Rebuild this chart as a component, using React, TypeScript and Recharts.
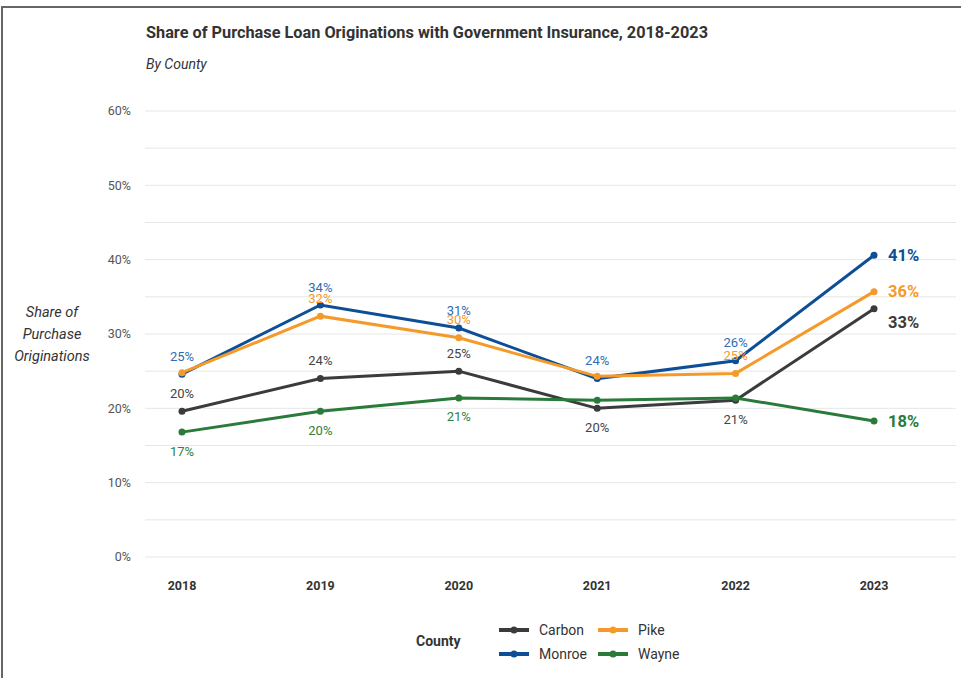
import React from 'react';
import { LineChart, Line, XAxis, YAxis, CartesianGrid, LabelList } from 'recharts';

const years = ['2018', '2019', '2020', '2021', '2022', '2023'];
const carbon = [19.6, 24.0, 25.0, 20.0, 21.1, 33.4];
const monroe = [24.6, 33.9, 30.8, 24.0, 26.4, 40.6];
const pike = [24.8, 32.4, 29.5, 24.3, 24.7, 35.7];
const wayne = [16.8, 19.6, 21.4, 21.1, 21.4, 18.3];
const yTicks = [0, 10, 20, 30, 40, 50, 60];
const gridValues = [0, 5, 10, 15, 20, 25, 30, 35, 40, 45, 50, 55, 60];

const data = years.map((year, i) => ({
  year,
  Carbon: carbon[i],
  Monroe: monroe[i],
  Pike: pike[i],
  Wayne: wayne[i],
}));

type Pos = 'top' | 'bottom' | null;

// drawing order: last one sits on top
const series: { key: string; color: string; labelColor: string; labels: Pos[]; endDy: number }[] = [
  { key: 'Carbon', color: '#3b3b3b', labelColor: '#444444', labels: ['top', 'top', 'top', 'bottom', 'bottom', null], endDy: 13 },
  { key: 'Monroe', color: '#0c4f96', labelColor: '#2f6db3', labels: ['top', 'top', 'top', 'top', 'top', null], endDy: 0 },
  { key: 'Pike', color: '#f59a2a', labelColor: '#f59a2a', labels: [null, 'top', 'top', null, 'top', null], endDy: 0 },
  { key: 'Wayne', color: '#2a7a3a', labelColor: '#2f8040', labels: ['bottom', 'bottom', 'bottom', null, null, null], endDy: 0 },
];

const legendOrder = [['Carbon', 'Pike'], ['Monroe', 'Wayne']];

const FONT = 'Roboto, "Noto Sans", sans-serif';

function makeLabel(s: (typeof series)[number]) {
  return (props: any) => {
    const { x, y, value, index } = props;
    const last = index === years.length - 1;
    if (last) {
      return (
        <text x={x + 14} y={y + s.endDy} dy="0.35em" fontSize={16.5} fontWeight={700} fill={s.color} fontFamily={FONT}>
          {Math.round(value)}%
        </text>
      );
    }
    const pos = s.labels[index];
    if (!pos) return null;
    return (
      <text x={x} y={pos === 'top' ? y - 18 : y + 19} dy="0.35em" textAnchor="middle" fontSize={13} fill={s.labelColor} fontFamily={FONT}>
        {Math.round(value)}%
      </text>
    );
  };
}

export default function App() {
  const colorOf = (k: string) => series.find((s) => s.key === k)!.color;
  return (
    <div style={{ position: 'fixed', left: 0, top: 0, width: 961, height: 678, overflow: 'hidden', background: '#fff', fontFamily: FONT }}>
      <div style={{ position: 'absolute', left: 1, top: 6, width: 1100, height: 900, border: '2px solid #666', boxSizing: 'border-box' }} />
      <div style={{ position: 'absolute', left: 146, top: 23, fontSize: 16.3, fontWeight: 700, color: '#333' }}>
        Share of Purchase Loan Originations with Government Insurance, 2018-2023
      </div>
      <div style={{ position: 'absolute', left: 146, top: 56, fontSize: 14, fontStyle: 'italic', color: '#333' }}>By County</div>
      <div style={{ position: 'absolute', left: 4, top: 302, width: 96, textAlign: 'center', fontSize: 14.5, fontStyle: 'italic', color: '#333', lineHeight: '22px' }}>
        Share of
        <br />
        Purchase
        <br />
        Originations
      </div>
      <div style={{ position: 'absolute', left: 0, top: 0 }}>
        <LineChart width={961} height={678} data={data} margin={{ top: 111, right: 5, bottom: 91, left: 85 }}>
          <CartesianGrid vertical={false} stroke="#e6e6e6" horizontalValues={gridValues} />
          <XAxis
            dataKey="year"
            axisLine={false}
            tickLine={false}
            height={30}
            padding={{ left: 37, right: 82 }}
            tickMargin={18}
            tick={{ fontSize: 12.5, fontWeight: 700, fill: '#333', fontFamily: FONT }}
          />
          <YAxis
            domain={[0, 60]}
            ticks={yTicks}
            width={60}
            axisLine={false}
            tickLine={false}
            tickMargin={8}
            tickFormatter={(v) => `${v}%`}
            tick={{ fontSize: 12.5, fill: '#555', fontFamily: FONT }}
          />
          {series.map((s) => (
            <Line
              key={s.key}
              dataKey={s.key}
              stroke={s.color}
              strokeWidth={3}
              dot={{ r: 3.5, fill: s.color, stroke: s.color, strokeWidth: 0 }}
              activeDot={false}
              isAnimationActive={false}
            >
              <LabelList dataKey={s.key} content={makeLabel(s)} />
            </Line>
          ))}
        </LineChart>
      </div>
      <div style={{ position: 'absolute', left: 416, top: 633, fontSize: 14, fontWeight: 700, color: '#333' }}>County</div>
      {legendOrder.map((row, r) =>
        row.map((k, c) => (
          <div
            key={k}
            style={{ position: 'absolute', left: 499 + c * 99, top: 620 + r * 24, height: 20, display: 'flex', alignItems: 'center', fontSize: 14, color: '#333' }}
          >
            <svg width={30} height={10} style={{ marginRight: 10 }}>
              <line x1={0} y1={5} x2={30} y2={5} stroke={colorOf(k)} strokeWidth={4} />
              <circle cx={15} cy={5} r={3.5} fill={colorOf(k)} />
            </svg>
            {k}
          </div>
        ))
      )}
    </div>
  );
}
